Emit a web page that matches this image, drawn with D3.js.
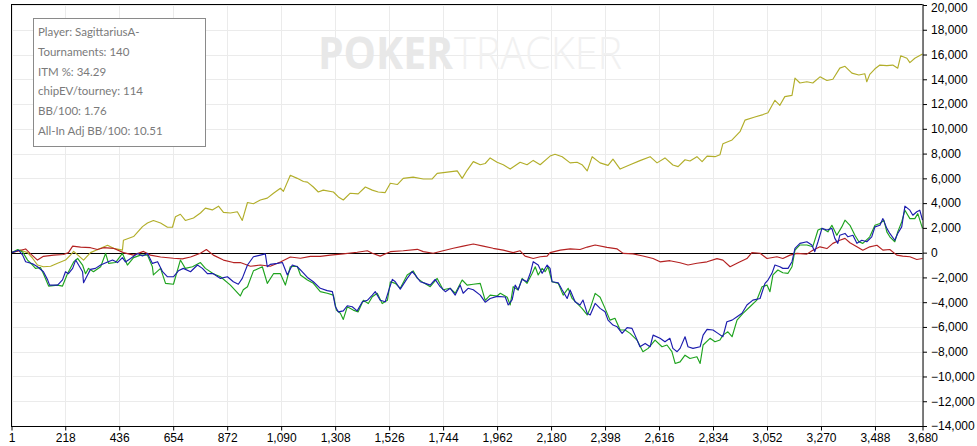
<!DOCTYPE html>
<html><head><meta charset="utf-8">
<script src="https://cdn.jsdelivr.net/npm/d3@7/dist/d3.min.js"></script>
<style>
html,body{margin:0;padding:0;background:#fff;}
svg{display:block;}
.tick text{font-family:"Liberation Sans",Arial,sans-serif;font-size:12px;fill:#000;}
</style></head>
<body><svg id="c" width="977" height="446"></svg>
<script>
const infoLines = ["Player: SagittariusA-","Tournaments: 140","ITM %: 34.29","chipEV/tourney: 114","BB/100: 1.76","All-In Adj BB/100: 10.51"];
const xTicks = [1,218,436,654,872,1090,1308,1526,1744,1962,2180,2398,2616,2834,3052,3270,3488,3680];
const yTicks = [-14000,-12000,-10000,-8000,-6000,-4000,-2000,0,2000,4000,6000,8000,10000,12000,14000,16000,18000,20000];

const allInAdj = [[1,0],[38,200],[66,0],[86,-450],[106,-1000],[130,-1140],[159,-1100],[187,-850],[219,-600],[239,-200],[252,100],[292,-600],[320,0],[361,350],[389,600],[413,350],[449,200],[453,1000],[494,1300],[530,2100],[550,2400],[574,2600],[603,2400],[631,2050],[651,2050],[663,2900],[683,3100],[703,2600],[736,2800],[764,3200],[784,3600],[812,3450],[837,3750],[857,3250],[885,3200],[913,3300],[933,2600],[954,4050],[978,3950],[1006,4250],[1034,4400],[1059,4800],[1087,5200],[1099,4950],[1127,6250],[1155,6000],[1180,5750],[1196,5700],[1220,5300],[1240,4900],[1260,5050],[1301,4900],[1321,4500],[1341,4250],[1369,4800],[1401,4750],[1430,5300],[1458,5050],[1482,4900],[1510,4850],[1531,5600],[1559,5500],[1583,6000],[1623,6100],[1664,5950],[1700,5950],[1720,6400],[1761,6500],[1801,6600],[1821,6000],[1841,6650],[1866,7350],[1894,7100],[1914,7200],[1934,7650],[1962,7300],[1987,7100],[2015,6750],[2055,7300],[2083,7100],[2108,7450],[2136,7100],[2176,7800],[2196,7950],[2225,7750],[2257,7250],[2285,7300],[2305,7100],[2326,6600],[2346,7750],[2378,7250],[2410,7050],[2430,7550],[2459,6750],[2499,7100],[2539,7430],[2580,7750],[2608,7250],[2640,7650],[2672,7080],[2693,6950],[2721,7500],[2741,7400],[2769,7750],[2790,7350],[2810,7800],[2842,7750],[2862,7900],[2874,8800],[2911,9100],[2943,9770],[2963,10700],[3003,10950],[3036,11150],[3056,11300],[3084,12300],[3104,11900],[3124,12600],[3153,12700],[3165,14100],[3185,13700],[3213,13800],[3237,13700],[3266,14200],[3294,13900],[3318,14000],[3346,14900],[3367,15050],[3395,14500],[3423,14350],[3447,14450],[3455,13800],[3467,14400],[3488,14850],[3508,15150],[3536,15100],[3560,15150],[3580,14900],[3592,15900],[3617,15700],[3629,15350],[3649,15700],[3680,16050]];

const nonShowdown = [[1,0],[58,300],[78,-100],[106,-600],[130,-300],[171,-200],[211,-150],[231,0],[248,530],[280,450],[320,400],[348,250],[373,400],[413,350],[453,0],[494,-200],[534,100],[562,-200],[603,-350],[655,-450],[691,-500],[724,-350],[764,-50],[788,250],[816,-200],[857,-600],[897,-800],[925,-800],[966,-1100],[1006,-1000],[1046,-1100],[1087,-750],[1127,-350],[1168,-450],[1208,-300],[1248,-300],[1288,-200],[1341,-100],[1397,30],[1438,150],[1458,-50],[1490,-280],[1531,80],[1583,150],[1640,270],[1664,80],[1704,-50],[1744,150],[1785,350],[1825,530],[1866,700],[1906,530],[1946,350],[1987,200],[2027,0],[2055,150],[2075,-280],[2108,-470],[2136,-330],[2164,-280],[2176,0],[2217,200],[2257,300],[2297,250],[2326,450],[2358,620],[2406,430],[2447,300],[2471,-60],[2511,-100],[2551,-270],[2592,-470],[2620,-740],[2660,-650],[2701,-820],[2733,-1000],[2769,-860],[2810,-740],[2850,-480],[2874,-600],[2903,-1140],[2935,-820],[2971,-480],[2991,0],[3024,-50],[3052,-470],[3092,-330],[3116,-470],[3145,-200],[3173,-60],[3213,-120],[3237,200],[3266,470],[3294,330],[3318,750],[3346,1000],[3367,1150],[3387,800],[3415,470],[3439,200],[3467,470],[3496,600],[3520,200],[3548,250],[3576,-200],[3600,-280],[3629,-330],[3657,-550],[3680,-470]];

const showdown = [[1,0],[30,200],[46,-200],[58,-730],[86,-900],[106,-1140],[130,-1540],[147,-2200],[155,-2620],[187,-2620],[207,-2200],[219,-1540],[231,-1700],[248,-1270],[260,-600],[272,-1000],[288,-1540],[292,-2430],[308,-1800],[320,-1350],[340,-1270],[361,-1000],[389,-750],[409,-600],[429,-800],[449,-400],[461,-750],[482,-470],[510,-60],[530,-270],[550,-60],[570,-870],[591,-730],[611,-1540],[631,-1950],[655,-1950],[675,-1470],[695,-1270],[724,-1540],[752,-1000],[772,-1270],[792,-1700],[816,-1700],[845,-2080],[873,-1950],[897,-2350],[917,-2550],[933,-2080],[954,-1000],[978,-330],[1006,-200],[1026,-100],[1034,-1140],[1046,-950],[1075,-870],[1095,-800],[1115,-1800],[1135,-1000],[1155,-1140],[1168,-1400],[1196,-2000],[1220,-2350],[1248,-2880],[1276,-3070],[1297,-3150],[1309,-4370],[1321,-4780],[1341,-4700],[1357,-4290],[1377,-4370],[1397,-4700],[1418,-3970],[1438,-3850],[1458,-3430],[1470,-3150],[1490,-3850],[1510,-3970],[1523,-3150],[1539,-2160],[1551,-2350],[1571,-2950],[1599,-2080],[1619,-1540],[1631,-1800],[1652,-2350],[1672,-2480],[1692,-2620],[1712,-2160],[1732,-2750],[1753,-3150],[1773,-2880],[1793,-3430],[1813,-2620],[1825,-3280],[1845,-2880],[1866,-3000],[1894,-3430],[1914,-4000],[1934,-3700],[1962,-3530],[1995,-3580],[2007,-4230],[2023,-3800],[2035,-2620],[2047,-3000],[2063,-2160],[2083,-2350],[2096,-1670],[2108,-730],[2128,-1000],[2144,-1670],[2164,-1000],[2176,-1270],[2184,-2350],[2209,-2430],[2225,-3020],[2245,-3700],[2257,-3020],[2277,-3970],[2297,-4230],[2309,-3830],[2326,-4900],[2338,-5030],[2358,-4100],[2378,-4500],[2398,-4770],[2410,-5450],[2430,-5850],[2447,-5990],[2467,-6520],[2487,-6050],[2507,-6120],[2519,-6660],[2539,-7600],[2560,-7330],[2580,-7600],[2592,-6660],[2620,-6920],[2640,-7200],[2660,-6920],[2672,-7730],[2689,-8000],[2701,-7730],[2721,-6790],[2733,-7600],[2753,-7730],[2782,-7600],[2794,-6660],[2810,-6200],[2834,-6250],[2854,-6520],[2874,-6790],[2890,-5580],[2911,-5450],[2931,-5180],[2951,-4900],[2971,-4230],[2995,-3830],[3024,-3700],[3044,-2480],[3056,-2210],[3072,-1670],[3084,-1000],[3104,-1140],[3116,-1270],[3137,-1270],[3153,-730],[3165,350],[3185,750],[3213,880],[3233,620],[3245,80],[3258,880],[3274,1960],[3294,1830],[3314,1960],[3326,1150],[3338,750],[3346,1400],[3367,1550],[3379,1280],[3399,1400],[3415,750],[3435,1000],[3455,880],[3475,1280],[3488,2080],[3508,2210],[3520,2750],[3536,1960],[3548,1550],[3568,1000],[3580,1550],[3596,2080],[3609,3760],[3629,3430],[3641,3020],[3657,3300],[3669,3430],[3680,2620]];

const netWon = [[1,0],[26,250],[46,50],[66,-600],[86,-1000],[98,-1270],[118,-1200],[130,-1700],[151,-2700],[187,-2620],[207,-2700],[227,-1700],[252,-750],[268,-470],[288,-1000],[300,-1700],[312,-1270],[332,-1540],[361,-1140],[381,-60],[393,-870],[421,-800],[449,-60],[469,-1000],[494,-400],[522,-200],[550,-200],[570,-1140],[574,-1800],[603,-1270],[623,-2480],[655,-2550],[683,-600],[703,-1270],[732,-1140],[764,-800],[784,-1270],[816,-1700],[845,-1950],[885,-2620],[925,-3500],[937,-3000],[954,-2750],[978,-1470],[1014,-1140],[1034,-2480],[1059,-1700],[1087,-1700],[1107,-2620],[1127,-1140],[1155,-1100],[1168,-1800],[1196,-2210],[1220,-2480],[1248,-3150],[1276,-3280],[1301,-3430],[1313,-4640],[1329,-4900],[1341,-5390],[1357,-4370],[1381,-4640],[1401,-4780],[1422,-3850],[1442,-4110],[1458,-3560],[1478,-3280],[1498,-4110],[1519,-3850],[1531,-2350],[1551,-2480],[1571,-2880],[1599,-1800],[1623,-1470],[1640,-2080],[1664,-2420],[1692,-2750],[1720,-2080],[1744,-3000],[1773,-2880],[1793,-3280],[1821,-2210],[1841,-2620],[1866,-2550],[1894,-2480],[1914,-3850],[1934,-3430],[1962,-3500],[1975,-3280],[2003,-3600],[2015,-4230],[2027,-2750],[2047,-3020],[2063,-2080],[2083,-2480],[2104,-1670],[2116,-1140],[2128,-1800],[2144,-1270],[2156,-1540],[2168,-1140],[2184,-2350],[2209,-2480],[2229,-3430],[2249,-2880],[2265,-3700],[2285,-4100],[2305,-4500],[2326,-5030],[2338,-4500],[2358,-3290],[2378,-3600],[2398,-4500],[2418,-5450],[2438,-5300],[2459,-6250],[2479,-6250],[2499,-6520],[2527,-7060],[2551,-8000],[2572,-7730],[2600,-7060],[2628,-7600],[2648,-7460],[2668,-8000],[2681,-8950],[2701,-8820],[2721,-8280],[2741,-8550],[2769,-8410],[2782,-8950],[2794,-7460],[2822,-6920],[2842,-7200],[2862,-7060],[2874,-6660],[2894,-6390],[2911,-6790],[2931,-5450],[2955,-4900],[2983,-4370],[3011,-3830],[3032,-2750],[3052,-2620],[3064,-3150],[3076,-1800],[3096,-1400],[3116,-1620],[3137,-1670],[3153,-1140],[3165,200],[3185,620],[3213,620],[3237,480],[3258,1830],[3274,1960],[3298,1680],[3314,2210],[3334,1400],[3354,2080],[3367,2620],[3387,2210],[3407,1400],[3423,880],[3439,750],[3467,1280],[3488,2210],[3508,2350],[3524,2620],[3536,1680],[3548,1280],[3568,880],[3580,1680],[3596,2480],[3609,3430],[3629,2750],[3649,2750],[3661,3150],[3680,1960]];

const svg = d3.select("#c");
const L = 11, R = 922.5, T = 5, B = 426;
const x = d3.scaleLinear().domain([1, 3680]).range([L + 0.5, R]);
const y = d3.scaleLinear().domain([-14000, 20000]).range([B, T]);

// grid
svg.append("g").selectAll("line").data(yTicks).join("line")
  .attr("x1", L).attr("x2", R).attr("y1", d => Math.round(y(d)) + 0.5).attr("y2", d => Math.round(y(d)) + 0.5)
  .attr("stroke", "#ebebeb").attr("stroke-width", 1);
svg.append("g").selectAll("line").data(xTicks).join("line")
  .attr("y1", T).attr("y2", B).attr("x1", d => Math.round(x(d)) + 0.5).attr("x2", d => Math.round(x(d)) + 0.5)
  .attr("stroke", "#ebebeb").attr("stroke-width", 1);

// watermark
svg.append("text").attr("x", 318).attr("y", 69).attr("textLength", 135).attr("lengthAdjust", "spacingAndGlyphs")
  .attr("font-family", "'Open Sans', sans-serif").attr("font-weight", "bold").attr("font-size", 45)
  .attr("fill", "#e8e8e8").text("POKER");
svg.append("text").attr("x", 454).attr("y", 69).attr("textLength", 168).attr("lengthAdjust", "spacingAndGlyphs")
  .attr("font-family", "'Open Sans', sans-serif").attr("font-weight", 300).attr("font-size", 45)
  .attr("fill", "#f1f1f1").text("TRACKER");

// zero line
svg.append("line").attr("x1", L).attr("x2", R).attr("y1", Math.round(y(0)) + 0.5).attr("y2", Math.round(y(0)) + 0.5)
  .attr("stroke", "#000").attr("stroke-width", 1);

// series
const line = d3.line().x(d => x(d[0])).y(d => y(d[1]));
const series = [
  {data: allInAdj, color: "#b2ae2a"},
  {data: nonShowdown, color: "#b42222"},
  {data: netWon, color: "#1ea31e"},
  {data: showdown, color: "#1c1cae"}
];
svg.append("g").selectAll("path").data(series).join("path")
  .attr("d", d => line(d.data)).attr("fill", "none")
  .attr("stroke", d => d.color).attr("stroke-width", 1.15).attr("stroke-linejoin", "round");

// frame
svg.append("line").attr("x1", L + 0.5).attr("x2", L + 0.5).attr("y1", T).attr("y2", B).attr("stroke", "#000");
svg.append("line").attr("x1", L).attr("x2", R).attr("y1", T - 0.5).attr("y2", T - 0.5).attr("stroke", "#000");

// axes
const xAxis = d3.axisBottom(x).tickValues(xTicks).tickSize(4).tickPadding(3).tickFormat(d3.format(","));
const gx = svg.append("g").attr("transform", `translate(0,${B + 0.5})`).call(xAxis);
gx.select(".domain").attr("d", `M${L},0H${R + 0.5}`);
const yAxis = d3.axisRight(y).tickValues(yTicks).tickSize(4).tickPadding(4).tickFormat(d3.format(","));
const gy = svg.append("g").attr("transform", `translate(${R + 0.5},0)`).call(yAxis);
gy.select(".domain").attr("d", `M0,${T - 1}V${B + 0.5}`);
svg.selectAll(".tick line").attr("stroke", "#000");
svg.selectAll(".domain").attr("stroke", "#000");
// keep the top label inside the picture like the reference (it touches the edge)
gy.selectAll(".tick text").filter(d => d === 20000).attr("dy", "0.5em");

// info box
const box = svg.append("g");
box.append("rect").attr("x", 33.5).attr("y", 18.5).attr("width", 172).attr("height", 128)
  .attr("fill", "#fff").attr("stroke", "#8a8a8a");
box.selectAll("text").data(infoLines).join("text")
  .attr("x", 38).attr("y", (d, i) => 36 + i * 19.8)
  .attr("font-family", "Lato, 'Open Sans', sans-serif").attr("font-size", 11.5)
  .attr("fill", "#7a7a7a").text(d => d);
</script></body></html>
